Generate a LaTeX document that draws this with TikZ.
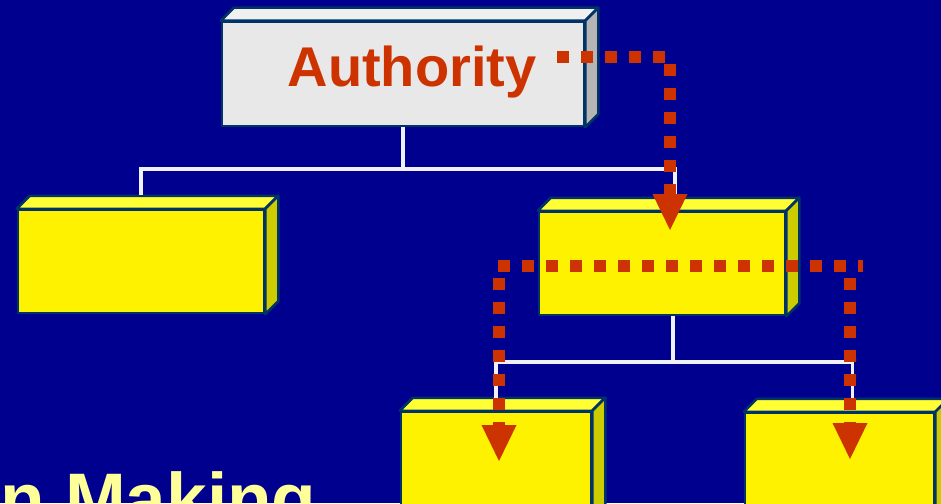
\documentclass[tikz,border=0pt]{standalone}
\usepackage{fontspec}
\setsansfont{Liberation Sans}
\usetikzlibrary{arrows.meta}
\definecolor{navy}{RGB}{0,0,143}
\definecolor{accent}{RGB}{204,51,0}
\definecolor{rim}{RGB}{0,51,102}
\definecolor{pale}{RGB}{255,255,153}
\definecolor{slabtop}{RGB}{255,255,51}
\definecolor{slabside}{RGB}{204,204,0}
% top and side faces behind a front node
\newcommand{\slabfaces}[3]{%
  \filldraw[face, fill=#2] (#1.north west) -- ++(13,-13)
    -- ([shift={(13,-13)}]#1.north east) -- (#1.north east) -- cycle;
  \filldraw[face, fill=#3] (#1.north east) -- ++(13,-13)
    -- ([shift={(13,-13)}]#1.south east) -- (#1.south east) -- cycle;}

\begin{document}
\begin{tikzpicture}[x=1pt, y=-1pt,
  slab/.style={draw=rim, line width=2.5pt, line join=round, inner sep=0pt,
               fill=yellow},
  face/.style={draw=rim, line width=2.5pt, line join=round},
  link/.style={draw=white!94!navy, line width=3.6pt},
  reddots/.style={draw=accent, line width=12pt, dash pattern=on 12pt off 12pt},
  dotarrow/.style={reddots,
                   -{Triangle[width=35pt, length=36pt, line width=0pt]}},
  headtext/.style={font=\sffamily\bfseries\fontsize{56}{60}\selectfont,
                   text=accent, inner sep=0pt},
  bigtext/.style={font=\sffamily\bfseries\fontsize{73}{80}\selectfont,
                  text=pale, inner sep=0pt}]
\clip (0,0) rectangle (941,503);
\fill[navy] (0,0) rectangle (941,503);

% boxes
\node[slab, fill=black!9, minimum width=362, minimum height=104] (auth) at (403,74) {};
\slabfaces{auth}{black!6}{black!29}
\node[slab, minimum width=246, minimum height=103] (left) at (141,261.5) {};
\slabfaces{left}{slabtop}{slabside}
\node[slab, minimum width=246, minimum height=103] (mid) at (662,263.5) {};
\slabfaces{mid}{slabtop}{slabside}
\node[slab, minimum width=190, minimum height=110] (botL) at (496,467) {};
\slabfaces{botL}{slabtop}{slabside}
\node[slab, minimum width=189, minimum height=110] (botR) at (839.5,468) {};
\slabfaces{botR}{slabtop}{slabside}

\node[headtext, anchor=base] (authlabel) at (412,86) {Authority};
\node[bigtext, anchor=base west] (making) at (0,524) {n Making};

% tree lines
\coordinate (busA) at (403,169);
\coordinate (busB) at (673,362);
\draw[link] (auth.south) -- (busA);
\draw[link] ([yshift=14]left.north) |- (busA) -| ([shift={(13,-13)}]mid.north);
\draw[link] ([xshift=11]mid.south) -- (busB);
\draw[link] ([yshift=12]botL.north) |- (busB) -| ([shift={(13,-13)}]botR.north);

% delegation paths
\coordinate (out1) at (557,57);
\coordinate (tip1) at (670,230);
\draw[dotarrow] (out1) -| (tip1);
\coordinate (splitL) at (498,266);
\coordinate (splitR) at (863,266);
\draw[reddots] (splitL) -- (splitR);
\coordinate (tipL) at (499,461);
\coordinate (tipR) at (850,459);
\draw[dotarrow] (499,278) -- (tipL);
\draw[dotarrow] (850,278) -- (tipR);
\end{tikzpicture}
\end{document}
